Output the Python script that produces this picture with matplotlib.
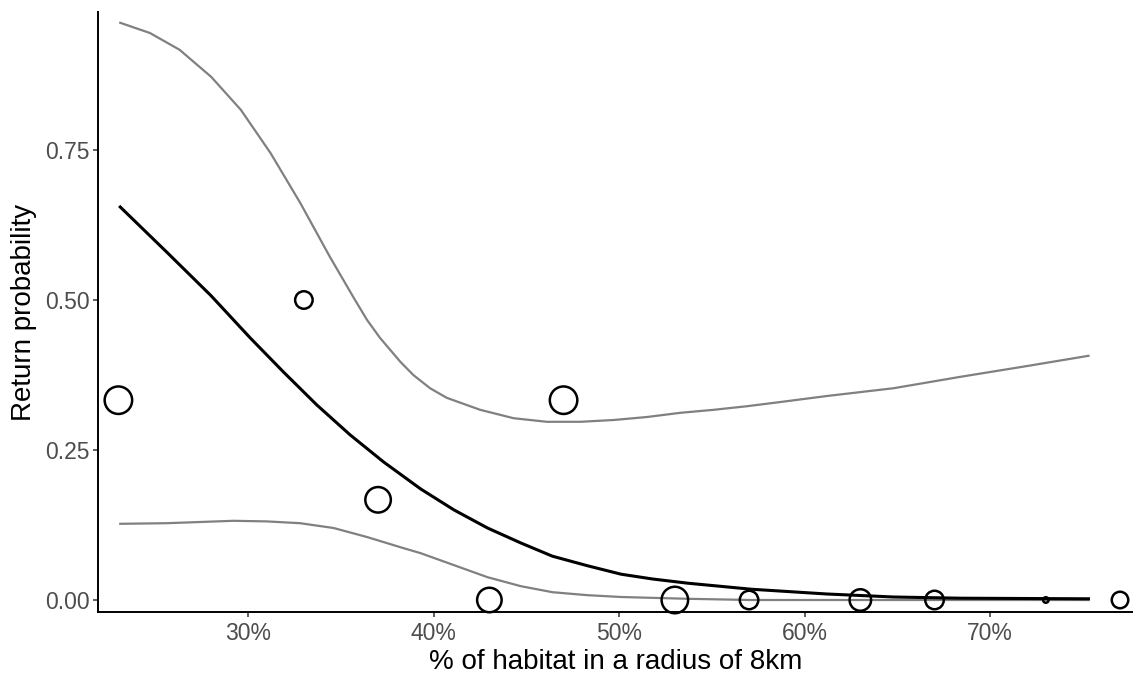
import numpy as np
from matplotlib import pyplot as plt
from matplotlib.ticker import FuncFormatter

# observed return rates per habitat class
habitat = [23, 33, 37, 43, 47, 53, 57, 63, 67, 73, 77]
return_prob = [0.333, 0.5, 0.167, 0, 0.333, 0, 0, 0, 0, 0, 0]
# circle diameters (pixels)
point_diam = [30, 20, 28, 27, 30, 29, 21, 24, 21, 8, 19]

# fitted curve and its confidence band
fit_x = [23.1, 25.6, 28.0, 30.1, 31.9, 33.7, 35.5, 37.3, 39.3, 41.1, 42.9,
         44.7, 46.4, 48.3, 50.1, 51.8, 53.7, 57.1, 61.2, 64.8, 68.4, 75.3]
fit_y = [0.655, 0.580, 0.507, 0.437, 0.380, 0.325, 0.275, 0.230, 0.185,
         0.150, 0.120, 0.095, 0.073, 0.057, 0.043, 0.035, 0.028, 0.018,
         0.010, 0.005, 0.003, 0.002]

low_x = [23.1, 25.6, 29.2, 31.0, 32.8, 34.6, 36.4, 38.2, 39.3, 41.1, 42.9,
         44.7, 46.4, 48.3, 50.1, 53.7, 57.1, 75.3]
low_y = [0.127, 0.128, 0.132, 0.131, 0.128, 0.120, 0.105, 0.088, 0.078,
         0.058, 0.038, 0.023, 0.013, 0.008, 0.005, 0.002, 0.0, 0.0]

up_x = [23.1, 24.7, 26.3, 28.0, 29.6, 31.2, 32.8, 34.4, 35.7, 36.4, 37.1,
        38.2, 38.9, 39.8, 40.7, 42.5, 44.3, 46.1, 47.9, 49.7, 51.5, 53.3,
        55.1, 56.9, 58.7, 61.2, 64.8, 68.4, 72.0, 75.3]
up_y = [0.962, 0.945, 0.917, 0.872, 0.817, 0.745, 0.662, 0.572, 0.503,
        0.467, 0.437, 0.397, 0.375, 0.353, 0.337, 0.317, 0.303, 0.297,
        0.297, 0.300, 0.305, 0.312, 0.317, 0.323, 0.330, 0.340, 0.353,
        0.372, 0.390, 0.407]

plt.rcParams['font.family'] = ['Liberation Sans', 'DejaVu Sans']

fig = plt.figure(figsize=(11.33, 6.79), dpi=100)
ax = fig.add_axes([98/1133, 67/679, 1 - 98/1133, 600/679])

ax.plot(up_x, up_y, color='#808080', lw=1.6, solid_joinstyle='round')
ax.plot(low_x, low_y, color='#808080', lw=1.6, solid_joinstyle='round')
ax.plot(fit_x, fit_y, color='black', lw=2.2, solid_joinstyle='round')

sizes = [((d - 2.5) * 0.72) ** 2 for d in point_diam]
ax.scatter(habitat, return_prob, s=sizes, facecolors='none',
           edgecolors='black', linewidths=1.8, zorder=3, clip_on=False)

ax.set_xlim(21.9, 77.7)
ax.set_ylim(-0.02, 0.98)
ax.set_xticks([30, 40, 50, 60, 70])
ax.set_yticks([0, 0.25, 0.5, 0.75])
ax.xaxis.set_major_formatter(FuncFormatter(lambda v, p: '%d%%' % v))
ax.yaxis.set_major_formatter(FuncFormatter(lambda v, p: '%.2f' % v))

for side in ['top', 'right']:
    ax.spines[side].set_visible(False)
for side in ['left', 'bottom']:
    ax.spines[side].set_linewidth(1.4)
    ax.spines[side].set_color('black')

ax.tick_params(axis='both', length=3.6, width=1.1, color='#333333',
               labelcolor='#4D4D4D', labelsize=16.5, pad=2.5)
ax.tick_params(axis='x', pad=3.5)

ax.set_xlabel('% of habitat in a radius of 8km', fontsize=20, labelpad=3)
ax.set_ylabel('Return probability', fontsize=20, labelpad=6)

fig.savefig('out.png', dpi=100)
